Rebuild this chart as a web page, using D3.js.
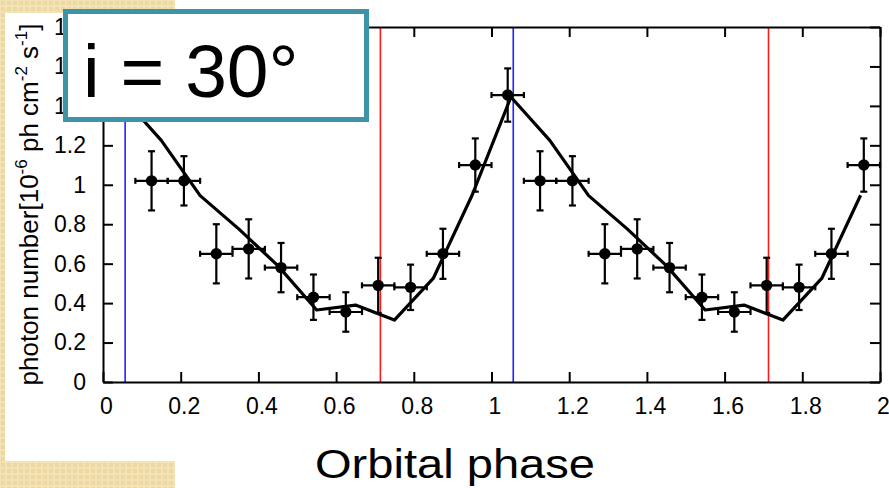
<!DOCTYPE html>
<html>
<head>
<meta charset="utf-8">
<script src="https://cdn.jsdelivr.net/npm/d3@7"></script>
<style>
  body { margin: 0; background: #ffffff; }
  svg { display: block; font-family: "Liberation Sans", Arial, sans-serif; }
</style>
</head>
<body>
<div id="chart"></div>
<script>
// Phase bins of the measured light curve (two cycles shown).
const phaseBins = [0.0417, 0.125, 0.2083, 0.2917, 0.375, 0.4583, 0.5417, 0.625, 0.7083, 0.7917, 0.875, 0.9583,
                   1.0417, 1.125, 1.2083, 1.2917, 1.375, 1.4583, 1.5417, 1.625, 1.7083, 1.7917, 1.875, 1.9583];
const photonFlux = [1.455, 1.02, 1.02, 0.65, 0.675, 0.58, 0.43, 0.355, 0.49, 0.48, 0.65, 1.10,
                    1.455, 1.02, 1.02, 0.65, 0.675, 0.58, 0.43, 0.355, 0.49, 0.48, 0.65, 1.10];
const fluxErr = [0.125, 0.15, 0.125, 0.15, 0.15, 0.125, 0.115, 0.10, 0.14, 0.115, 0.127, 0.135,
                 0.135, 0.15, 0.125, 0.15, 0.15, 0.125, 0.115, 0.10, 0.14, 0.115, 0.127, 0.135];
const phaseHalfBin = 0.0417;

// Model curve.
const modelPhase = [0.05, 0.15, 0.25, 0.35, 0.45, 0.55, 0.65, 0.75, 0.85, 0.95,
                    1.05, 1.15, 1.25, 1.35, 1.45, 1.55, 1.65, 1.75, 1.85, 1.95];
const modelFlux = [1.445, 1.225, 0.945, 0.775, 0.59, 0.365, 0.39, 0.314, 0.525, 0.947,
                   1.445, 1.225, 0.945, 0.775, 0.59, 0.365, 0.39, 0.314, 0.525, 0.947];

// Vertical marker lines.
const bluePhases = [0.057, 1.056];
const redPhases = [0.714, 1.713];

// Tick values.
const xTicks = [0, 0.2, 0.4, 0.6, 0.8, 1, 1.2, 1.4, 1.6, 1.8, 2];
const yTicks = [0, 0.2, 0.4, 0.6, 0.8, 1, 1.2, 1.4, 1.6, 1.8];

const width = 889;
const height = 488;
const plot = { left: 103, right: 880, top: 27, bottom: 382 };

const svg = d3.select("#chart")
    .append("svg")
    .attr("width", width)
    .attr("height", height);

// Beige slide texture on the left.
const defs = svg.append("defs");
const pat = defs.append("pattern")
    .attr("id", "tex")
    .attr("width", 6)
    .attr("height", 6)
    .attr("patternUnits", "userSpaceOnUse");
pat.append("rect").attr("width", 6).attr("height", 6).attr("fill", "#f3e2b4");
pat.append("rect").attr("x", 1).attr("y", 1).attr("width", 4).attr("height", 4).attr("fill", "#ecd8a2");

svg.append("rect")
    .attr("x", 0).attr("y", 0)
    .attr("width", 175).attr("height", height)
    .attr("fill", "url(#tex)");

// White picture panel.
svg.append("rect")
    .attr("x", 5).attr("y", 13)
    .attr("width", width - 5).attr("height", 448)
    .attr("fill", "#ffffff");

// Scales.
const xScale = d3.scaleLinear().domain([0, 2]).range([plot.left, plot.right]);
const yScale = d3.scaleLinear().domain([0, 1.8]).range([plot.bottom, plot.top]);

// Blue and red phase markers.
svg.selectAll(".blue-line")
    .data(bluePhases)
    .enter()
    .append("line")
    .attr("x1", d => xScale(d)).attr("x2", d => xScale(d))
    .attr("y1", plot.top).attr("y2", plot.bottom)
    .attr("stroke", "#2020ff")
    .attr("stroke-width", 1.6);

svg.selectAll(".red-line")
    .data(redPhases)
    .enter()
    .append("line")
    .attr("x1", d => xScale(d)).attr("x2", d => xScale(d))
    .attr("y1", plot.top).attr("y2", plot.bottom)
    .attr("stroke", "#ff1a1a")
    .attr("stroke-width", 1.6);

// Axes with inward ticks on all four sides.
const fmt = d3.format("~g");
const axisStyle = g => {
    g.select(".domain").attr("stroke", "#000").attr("stroke-width", 2);
    g.selectAll(".tick line").attr("stroke", "#000").attr("stroke-width", 2);
};

svg.append("g")
    .attr("transform", `translate(0, ${plot.bottom})`)
    .call(d3.axisBottom(xScale).tickValues(xTicks).tickFormat(fmt).tickSize(-10).tickSizeOuter(0).tickPadding(16))
    .call(axisStyle)
    .call(g => g.selectAll("text")
        .attr("dx", 3)
        .attr("fill", "#000")
        .style("font-size", "23px")
        .style("font-family", "'Liberation Sans', Arial, sans-serif"));

svg.append("g")
    .attr("transform", `translate(0, ${plot.top})`)
    .call(d3.axisTop(xScale).tickValues(xTicks).tickFormat("").tickSize(-10).tickSizeOuter(0))
    .call(axisStyle);

svg.append("g")
    .attr("transform", `translate(${plot.left}, 0)`)
    .call(d3.axisLeft(yScale).tickValues(yTicks).tickFormat(fmt).tickSize(-10).tickSizeOuter(0).tickPadding(17))
    .call(axisStyle)
    .call(g => g.selectAll("text")
        .attr("fill", "#000")
        .style("font-size", "23px")
        .style("font-family", "'Liberation Sans', Arial, sans-serif"));

svg.append("g")
    .attr("transform", `translate(${plot.right}, 0)`)
    .call(d3.axisRight(yScale).tickValues(yTicks).tickFormat("").tickSize(-10).tickSizeOuter(0))
    .call(axisStyle);

// Model curve.
const modelData = modelPhase.map((p, i) => ({ phase: p, flux: modelFlux[i] }));
svg.append("path")
    .datum(modelData)
    .attr("fill", "none")
    .attr("stroke", "#000")
    .attr("stroke-width", 3.2)
    .attr("stroke-linejoin", "round")
    .attr("d", d3.line().x(d => xScale(d.phase)).y(d => yScale(d.flux)));

// Data points with error bars.
const points = phaseBins.map((p, i) => ({ phase: p, flux: photonFlux[i], err: fluxErr[i] }));
const pt = svg.append("g")
    .attr("stroke", "#000")
    .attr("stroke-width", 2.2)
    .selectAll("g")
    .data(points)
    .enter()
    .append("g");

pt.append("line")
    .attr("x1", d => xScale(d.phase - phaseHalfBin)).attr("x2", d => xScale(d.phase + phaseHalfBin))
    .attr("y1", d => yScale(d.flux)).attr("y2", d => yScale(d.flux));
pt.append("line")
    .attr("x1", d => xScale(d.phase)).attr("x2", d => xScale(d.phase))
    .attr("y1", d => yScale(d.flux - d.err)).attr("y2", d => yScale(d.flux + d.err));
// caps
[-1, 1].forEach(s => {
    pt.append("line")
        .attr("x1", d => xScale(d.phase) - 3.5).attr("x2", d => xScale(d.phase) + 3.5)
        .attr("y1", d => yScale(d.flux + s * d.err)).attr("y2", d => yScale(d.flux + s * d.err));
    pt.append("line")
        .attr("x1", d => xScale(d.phase + s * phaseHalfBin)).attr("x2", d => xScale(d.phase + s * phaseHalfBin))
        .attr("y1", d => yScale(d.flux) - 3).attr("y2", d => yScale(d.flux) + 3);
});
pt.append("circle")
    .attr("cx", d => xScale(d.phase))
    .attr("cy", d => yScale(d.flux))
    .attr("r", 5.7)
    .attr("fill", "#000")
    .attr("stroke", "none");

// Y-axis title with superscripts.
const yTitle = svg.append("text")
    .attr("transform", `translate(38, ${(plot.top + plot.bottom) / 2}) rotate(-90)`)
    .attr("text-anchor", "middle")
    .style("font-size", "26px")
    .attr("fill", "#000");
yTitle.append("tspan").text("photon number[10");
yTitle.append("tspan").attr("dy", -11).style("font-size", "17px").text("-6");
yTitle.append("tspan").attr("dy", 11).text(" ph cm");
yTitle.append("tspan").attr("dy", -11).style("font-size", "17px").text("-2");
yTitle.append("tspan").attr("dy", 11).text(" s");
yTitle.append("tspan").attr("dy", -11).style("font-size", "17px").text("-1");
yTitle.append("tspan").attr("dy", 11).text("]");

// X-axis title.
svg.append("text")
    .attr("x", 455)
    .attr("y", 478)
    .attr("text-anchor", "middle")
    .attr("textLength", 280)
    .attr("lengthAdjust", "spacingAndGlyphs")
    .style("font-size", "41px")
    .attr("fill", "#000")
    .text("Orbital phase");

// Inclination label box.
svg.append("rect")
    .attr("x", 65.5).attr("y", 11.5)
    .attr("width", 301).attr("height", 108)
    .attr("fill", "#ffffff")
    .attr("stroke", "#3d94a7")
    .attr("stroke-width", 5);

svg.append("text")
    .attr("x", 83)
    .attr("y", 97)
    .style("font-size", "75px")
    .attr("fill", "#000")
    .text("i = 30°");
</script>
</body>
</html>
